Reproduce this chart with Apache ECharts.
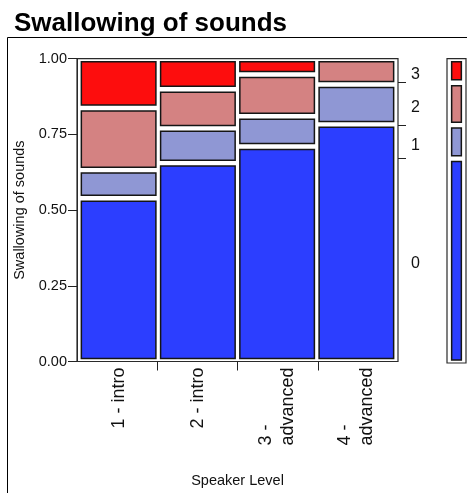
<!DOCTYPE html>
<html>
<head>
<meta charset="utf-8">
<script src="https://cdn.jsdelivr.net/npm/echarts@6/dist/echarts.min.js"></script>
<style>
html,body{margin:0;padding:0;background:#fff;}
#chart{width:467px;height:493px;}
</style>
</head>
<body>
<div id="chart"></div>
<script>
// ---- data ----
const titleText = 'Swallowing of sounds';
const categories = ['1 - intro', '2 - intro', '3 - advanced', '4 - advanced'];
const levels = ['0', '1', '2', '3'];
// share of each response level within each speaker level (bottom to top)
const share0 = [0.539, 0.655, 0.710, 0.783];
const share1 = [0.093, 0.115, 0.100, 0.132];
const share2 = [0.205, 0.129, 0.138, 0.085];
const share3 = [0.163, 0.101, 0.052, 0.000];
const yTicks = [0, 0.25, 0.5, 0.75, 1];

// ---- styles ----
const levelColors = ['#2c3eff', '#8f97d4', '#d48282', '#fd0d0d'];
const regular = "'Liberation Sans', Arial, sans-serif";

const shares = [share0, share1, share2, share3];
const mosaicData = [];
categories.forEach((c, ci) => {
  let cum = 0;
  shares.forEach((s, li) => {
    mosaicData.push([ci, cum, cum + s[ci], li]);
    cum += s[ci];
  });
});
// marginal (equal column widths)
const marginal = shares.map(s => s.reduce((a, b) => a + b, 0) / s.length);
const margData = [];
const margBounds = [];
const margMids = [];
{
  let cum = 0;
  marginal.forEach((m, li) => {
    margData.push([0, cum, cum + m, li]);
    margMids.push(cum + m / 2);
    cum += m;
    if (li < marginal.length - 1) margBounds.push(cum);
  });
}

function cellRenderer(insetX, insetY) {
  return function (params, api) {
    const cat = api.value(0), lo = api.value(1), hi = api.value(2);
    if (hi - lo <= 0) return;
    const p0 = api.coord([cat, lo]);
    const p1 = api.coord([cat, hi]);
    const bw = api.size([1, 0])[0];
    const ix = insetX + 0.75, iy = insetY + 0.75;
    const h = p0[1] - p1[1] - 2 * iy;
    if (h <= 0) return;
    return {
      type: 'rect',
      shape: { x: p0[0] - bw / 2 + ix, y: p1[1] + iy, width: bw - 2 * ix, height: h },
      style: { fill: levelColors[api.value(3)], stroke: '#151515', lineWidth: 1.5 }
    };
  };
}

const TOP = 58.7, BOTTOM = 493 - 361.5;

const chart = echarts.init(document.getElementById('chart'), null, { renderer: 'canvas' });
chart.setOption({
  animation: false,
  backgroundColor: '#fff',
  title: {
    text: titleText, left: 9, top: 6,
    textStyle: { fontFamily: regular, fontSize: 26, fontWeight: 'bold', color: '#000' }
  },
  graphic: [{
    type: 'rect', shape: { x: 7.5, y: 37.5, width: 520, height: 520 },
    style: { fill: 'none', stroke: '#000', lineWidth: 1 }, silent: true, z: 0
  }],
  grid: [
    { left: 77, right: 467 - 398, top: TOP, bottom: BOTTOM, show: true, borderColor: '#2a2a2a', borderWidth: 1.2, backgroundColor: 'transparent', outerBoundsMode: 'none', containLabel: false },
    { left: 79, right: 467 - 396, top: TOP, bottom: BOTTOM, outerBoundsMode: 'none', containLabel: false },
    { left: 447, right: 1, top: TOP, bottom: BOTTOM - 1.5, show: true, borderColor: '#2a2a2a', borderWidth: 1.2, backgroundColor: 'transparent', outerBoundsMode: 'none', containLabel: false }
  ],
  xAxis: [
    {
      gridIndex: 0, type: 'value', min: 0, max: 4,
      axisLine: { show: false }, splitLine: { show: false },
      axisTick: { show: true, length: 9, customValues: [1, 2, 3], lineStyle: { color: '#222', width: 1 } },
      axisLabel: { show: false },
      name: 'Speaker Level', nameLocation: 'middle', nameGap: 112,
      nameTextStyle: { fontFamily: regular, fontSize: 14.5, color: '#111' }
    },
    {
      gridIndex: 1, type: 'category', data: categories,
      axisLine: { show: false }, axisTick: { show: false }, splitLine: { show: false },
      axisLabel: {
        rotate: 90, margin: 6, interval: 0,
        formatter: v => v.length > 10 ? v.split(' - ').map((s, i, a) => '{a|' + s + (i < a.length - 1 ? ' -' : '') + '}').join('\n') : '{a|' + v + '}',
        rich: { a: { fontFamily: regular, fontSize: 18, lineHeight: 22, color: '#111', align: 'left' } }
      }
    },
    { gridIndex: 2, type: 'category', data: ['all'], show: false }
  ],
  yAxis: [
    {
      gridIndex: 0, type: 'value', min: 0, max: 1, interval: 0.25,
      axisLine: { show: true, lineStyle: { color: '#2a2a2a' } },
      axisTick: { show: true, length: 9, lineStyle: { color: '#222' } },
      splitLine: { show: false },
      axisLabel: { margin: 10, formatter: v => yTicks.indexOf(v) >= 0 ? v.toFixed(2) : '', fontFamily: regular, fontSize: 14.5, color: '#111' },
      name: 'Swallowing of sounds', nameLocation: 'middle', nameGap: 45, nameRotate: 90,
      nameTextStyle: { fontFamily: regular, fontSize: 14.5, color: '#111' }
    },
    {
      gridIndex: 0, type: 'value', min: 0, max: 1, position: 'right',
      axisLine: { show: false }, splitLine: { show: false },
      axisTick: { show: true, length: 8, customValues: margBounds, lineStyle: { color: '#222' } },
      axisLabel: {
        margin: 13, customValues: margMids, verticalAlign: 'top', lineHeight: 8,
        formatter: v => { const i = margMids.findIndex(m => Math.abs(m - v) < 1e-6); return i >= 0 ? levels[i] : ''; },
        fontFamily: regular, fontSize: 16, color: '#111'
      }
    },
    { gridIndex: 1, type: 'value', min: 0, max: 1, show: false },
    { gridIndex: 2, type: 'value', min: 0, max: 1, show: false }
  ],
  series: [
    {
      type: 'custom', xAxisIndex: 1, yAxisIndex: 2, data: mosaicData,
      renderItem: cellRenderer(1.6, 2.2), encode: { x: 0, y: [1, 2] }
    },
    {
      type: 'custom', xAxisIndex: 2, yAxisIndex: 3, data: margData,
      renderItem: cellRenderer(3.9, 2.2), encode: { x: 0, y: [1, 2] }
    }
  ]
});
</script>
</body>
</html>
